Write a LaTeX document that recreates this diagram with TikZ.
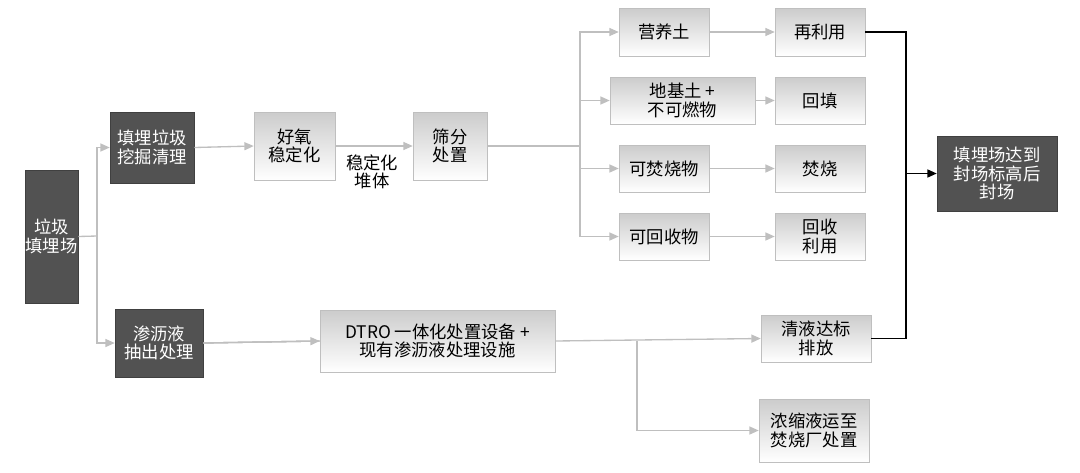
\documentclass[tikz,border=0pt]{standalone}
\usepackage{fontspec}
\newfontfamily\cjk{Noto Sans CJK SC}
\usetikzlibrary{arrows.meta}
\begin{document}
\begin{tikzpicture}[x=0.75pt,y=-0.75pt,
  every node/.style={font=\cjk\fontsize{13}{14}\selectfont,align=center,inner sep=0pt},
  dark/.style={fill=black!68,draw=black!75,text=white},
  light/.style={top color=black!20,bottom color=white,draw=black!25},
  gl/.style={draw=black!25,line width=1pt},
  ga/.style={gl,-{Triangle[length=7pt,width=6pt]}},
  bl/.style={draw=black,line width=1.1pt},
  ba/.style={bl,-{Triangle[length=7pt,width=6pt]}}]
\useasboundingbox (0,0) rectangle (1080,472);
\newcommand{\bx}[6]{\node[#1,minimum width=#4*0.75pt,minimum height=#5*0.75pt] (#6) at (#2,#3) {};}
\bx{dark}{51.5}{236.5}{53}{133}{a}\node[text=white] at (a) {垃圾\\填埋场};
\bx{dark}{152}{147.5}{84}{71}{b}\node[text=white] at (b) {填埋垃圾\\挖掘清理};
\bx{dark}{159}{343}{88}{68}{c}\node[text=white] at (c) {渗沥液\\抽出处理};
\bx{light}{294.5}{146}{81}{68}{d}\node at (d) {好氧\\稳定化};
\bx{light}{450}{146}{74}{68}{e}\node at (e) {筛分\\处置};
\node (lab) at (372,172) {稳定化\\堆体};
\bx{light}{664}{32}{90}{48}{f1}\node at (f1) {营养土};
\bx{light}{682.5}{100.5}{145}{47}{f2}\node at (f2) {地基土 +\\不可燃物};
\bx{light}{664}{168.5}{90}{47}{f3}\node at (f3) {可焚烧物};
\bx{light}{664}{236.5}{90}{47}{f4}\node at (f4) {可回收物};
\bx{light}{820}{32}{90}{48}{g1}\node at (g1) {再利用};
\bx{light}{820}{100.5}{90}{47}{g2}\node at (g2) {回填};
\bx{light}{820}{168.5}{90}{47}{g3}\node at (g3) {焚烧};
\bx{light}{820}{236.5}{90}{47}{g4}\node at (g4) {回收\\利用};
\bx{light}{437.5}{341}{235}{62}{h}\node at (h) {DTRO 一体化处置设备 +\\现有渗沥液处理设施};
\bx{light}{816}{338.5}{110}{47}{i}\node at (i) {清液达标\\排放};
\bx{light}{814}{430.5}{110}{63}{j}\node at (j) {浓缩液运至\\焚烧厂处置};
\bx{dark}{997}{173.5}{120}{75}{k}\node[text=white] at (k) {填埋场达到\\封场标高后\\封场};
\coordinate (t1) at (97,236);
\draw[gl] (a.east) -- (t1);
\draw[ga] (t1) |- (b.west);
\draw[ga] (t1) |- (c.west);
\draw[ga] (b.east) -- (d.west);
\draw[ga] (d.east) -- (e.west);
\coordinate (t2) at (580,146);
\draw[gl] (e.east) -- (t2);
\draw[ga] (t2) |- (f1.west);
\draw[ga] (t2) |- (f2.west);
\draw[ga] (t2) |- (f3.west);
\draw[ga] (t2) |- (f4.west);
\foreach \n in {1,...,4}{\draw[ga] (f\n.east) -- (g\n.west);}
\draw[gl] (c.east) -- (h.west);
\draw[gl] (c.east) -- (h.west);
\draw[ga] (c.east) -- (h.west);
\coordinate (t3) at (637,341);
\draw[ga] (h.east) -- (i.west);
\draw[ga] (t3) |- (j.west);
\coordinate (t4) at (906,173.5);
\draw[bl] (g1.east) -| (t4);
\draw[bl] (i.east) -| (t4);
\draw[ba] (t4) -- (k.west);
\end{tikzpicture}
\end{document}
